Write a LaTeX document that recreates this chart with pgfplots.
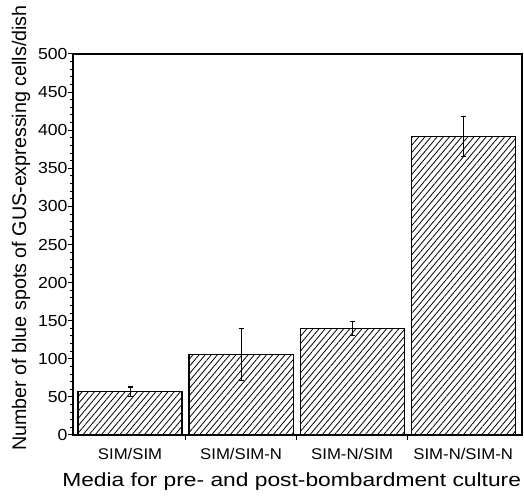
\documentclass[border=0pt]{standalone}
\usepackage{pgfplots}
\pgfplotsset{compat=1.18}
\usepackage{pgfplotstable}
\usepackage{fontspec}
\setmainfont{Liberation Sans}
\usetikzlibrary{patterns.meta}
\pgfplotstableread{
x y e
0 57 6
1 106 34
2 140 9.5
3 392 26
}\bardata
\begin{document}
\begin{tikzpicture}
\useasboundingbox (-73pt,-62pt) rectangle (451pt,435pt);
\begin{axis}[
  at={(0pt,0pt)}, anchor=south west,
  scale only axis,
  width=449pt, height=381pt,
  xmin=-0.514, xmax=3.53,
  ymin=0, ymax=500,
  axis line style={line width=1.3pt},
  ytick={0,50,...,500},
  minor y tick num=4,
  ytick pos=left, xtick pos=bottom,
  tick align=outside,
  major tick length=5pt, minor tick length=3pt,
  every tick/.style={black, line width=1pt},
  xtick={0,1,2,3},
  major x tick style={draw=none},
  xticklabels={\scalebox{1.08}[1]{SIM/SIM},\scalebox{1.08}[1]{SIM/SIM-N},\scalebox{1.08}[1]{SIM-N/SIM},\scalebox{1.08}[1]{SIM-N/SIM-N}},
  extra x ticks={0.5,1.5,2.5},
  extra x tick labels={},
  extra x tick style={major tick length=5pt, tick align=outside, major x tick style={draw=black,line width=1pt}},
  /pgf/number format/assume math mode=true,
  yticklabel={\scalebox{1.1}[1]{\pgfmathprintnumber{\tick}}},
  ticklabel style={font=\fontsize{15.5}{18}\selectfont},
  xticklabel style={anchor=base, yshift=-20pt},
  yticklabel style={anchor=east, xshift=3pt, font=\fontsize{16}{18}\selectfont},
  xlabel={\scalebox{1.2}[1]{Media for pre- and post-bombardment culture}},
  ylabel={Number of blue spots of GUS-expressing cells/dish},
  every axis x label/.style={at={(axis description cs:0.487,0)}, anchor=base, yshift=-52pt, font=\fontsize{19}{22}\selectfont},
  every axis y label/.style={at={(axis description cs:-0.1158,0.5433)}, anchor=center, rotate=90, font=\fontsize{19.7}{22}\selectfont},
  ybar, bar width=0.937,
]
\addplot[draw=black, line width=1.2pt,
  pattern={Lines[angle=50,distance=4.7pt,line width=0.8pt]}, pattern color=black,
  error bars/.cd, y dir=both, y explicit,
  error bar style={line width=1.1pt, black},
  error mark options={black, line width=1.1pt, mark size=2.5pt, rotate=90}]
  table[x=x, y=y, y error=e]{\bardata};
\end{axis}
\end{tikzpicture}
\end{document}
